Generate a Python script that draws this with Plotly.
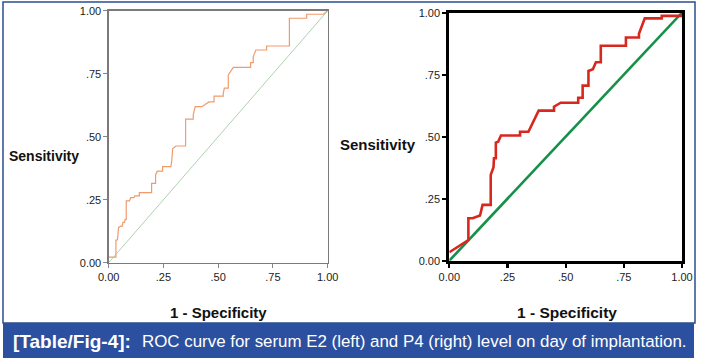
import plotly.graph_objects as go

# ---- data ----
tick_vals = [0, 0.25, 0.5, 0.75, 1.0]
tick_text = ["0.00", ".25", ".50", ".75", "1.00"]

e2_fpr = [0.0, 0.033, 0.033, 0.040, 0.045, 0.055, 0.062, 0.065, 0.072, 0.075, 0.080, 0.080,
          0.095, 0.100, 0.115, 0.120, 0.140, 0.140, 0.196, 0.196, 0.214, 0.214, 0.222, 0.246,
          0.246, 0.284, 0.288, 0.292, 0.307, 0.351, 0.351, 0.386, 0.386, 0.395, 0.425, 0.458,
          0.481, 0.481, 0.523, 0.523, 0.528, 0.546, 0.546, 0.569, 0.648, 0.648, 0.660, 0.660,
          0.672, 0.721, 0.721, 0.825, 0.825, 0.904, 0.904, 0.980, 1.0]
e2_tpr = [0.022, 0.022, 0.090, 0.090, 0.140, 0.145, 0.145, 0.160, 0.160, 0.172, 0.172, 0.245,
          0.245, 0.258, 0.258, 0.265, 0.265, 0.278, 0.278, 0.315, 0.315, 0.348, 0.363, 0.363,
          0.381, 0.381, 0.405, 0.452, 0.463, 0.463, 0.570, 0.570, 0.587, 0.619, 0.619, 0.638,
          0.638, 0.661, 0.661, 0.671, 0.693, 0.693, 0.745, 0.775, 0.775, 0.794, 0.794, 0.818,
          0.844, 0.844, 0.860, 0.860, 0.970, 0.970, 0.986, 0.986, 1.0]

p4_fpr = [0.0, 0.082, 0.082, 0.100, 0.132, 0.143, 0.178, 0.178, 0.190, 0.192, 0.200, 0.200,
          0.210, 0.222, 0.304, 0.304, 0.340, 0.384, 0.450, 0.450, 0.479, 0.554, 0.554, 0.573,
          0.573, 0.598, 0.598, 0.617, 0.630, 0.651, 0.651, 0.759, 0.759, 0.815, 0.815, 0.840,
          0.913, 0.913, 1.0, 1.0]
p4_tpr = [0.034, 0.083, 0.171, 0.171, 0.182, 0.225, 0.225, 0.346, 0.377, 0.413, 0.413, 0.476,
          0.480, 0.505, 0.505, 0.520, 0.520, 0.605, 0.605, 0.621, 0.637, 0.637, 0.657, 0.657,
          0.706, 0.706, 0.765, 0.772, 0.800, 0.800, 0.867, 0.867, 0.900, 0.900, 0.915, 0.977,
          0.977, 0.987, 0.987, 1.0]

ref_line = [0.0, 1.0]

caption_bold = "[Table/Fig-4]:"
caption_text = "ROC curve for serum E2 (left) and P4 (right) level on day of implantation."

W, H = 701, 361
def px(x): return x / W
def py(y): return 1 - y / H

FONT = "Liberation Sans, Arial, sans-serif"

fig = go.Figure()
fig.add_trace(go.Scatter(x=e2_fpr, y=e2_tpr, mode="lines", xaxis="x", yaxis="y",
                         line=dict(color="#f19a6c", width=1.2), showlegend=False, hoverinfo="skip"))
fig.add_trace(go.Scatter(x=ref_line, y=ref_line, mode="lines", xaxis="x", yaxis="y",
                         line=dict(color="#a6cca6", width=0.9), showlegend=False, hoverinfo="skip"))
fig.add_trace(go.Scatter(x=ref_line, y=ref_line, mode="lines", xaxis="x2", yaxis="y2",
                         line=dict(color="#169048", width=2.6), showlegend=False, hoverinfo="skip"))
fig.add_trace(go.Scatter(x=p4_fpr, y=p4_tpr, mode="lines", xaxis="x2", yaxis="y2",
                         line=dict(color="#d8281e", width=2.6), showlegend=False, hoverinfo="skip"))

tickfont = dict(family=FONT, size=11, color="#222222")
def ax(domain, anchor, color, lw, ticklen):
    return dict(domain=domain, anchor=anchor, range=[0, 1], tickvals=tick_vals, ticktext=tick_text,
                showgrid=False, zeroline=False, showline=True, mirror=True, linecolor=color,
                linewidth=lw, ticks="outside", ticklen=ticklen, tickcolor=color, tickwidth=lw * 0.7,
                tickfont=tickfont, fixedrange=True, automargin=False)

fig.update_layout(
    template="none",
    width=W, height=H, autosize=False,
    margin=dict(l=0, r=0, t=0, b=0, pad=0, autoexpand=False),
    paper_bgcolor="white", plot_bgcolor="white",
    hovermode=False,
    xaxis=ax([px(108.7), px(327.7)], "y", "#7a7a7a", 1.3, 4),
    yaxis=ax([py(262.7), py(10.7)], "x", "#7a7a7a", 1.3, 4),
    xaxis2=ax([px(449.3), px(682)], "y2", "#000000", 3, 4),
    yaxis2=ax([py(260.7), py(12.7)], "x2", "#000000", 3, 4),
    shapes=[
        dict(type="rect", xref="paper", yref="paper", x0=px(3), x1=px(695), y0=py(323), y1=py(2),
             line=dict(color="#2b4f8f", width=1.5), fillcolor="rgba(0,0,0,0)", layer="below"),
        dict(type="rect", xref="paper", yref="paper", x0=px(3), x1=px(694), y0=py(358), y1=py(323),
             line=dict(width=0), fillcolor="#2c50a0", layer="above"),
    ],
    annotations=[
        dict(text="<b>Sensitivity</b>", xref="paper", yref="paper", x=px(7), y=py(156),
             xanchor="left", yanchor="middle", showarrow=False,
             font=dict(family=FONT, size=14, color="#111111")),
        dict(text="<b>Sensitivity</b>", xref="paper", yref="paper", x=px(338), y=py(144),
             xanchor="left", yanchor="middle", showarrow=False,
             font=dict(family=FONT, size=15, color="#111111")),
        dict(text="<b>1 - Specificity</b>", xref="paper", yref="paper", x=px(218.5), y=py(312),
             xanchor="center", yanchor="middle", showarrow=False,
             font=dict(family=FONT, size=15, color="#111111")),
        dict(text="<b>1 - Specificity</b>", xref="paper", yref="paper", x=px(566.5), y=py(312),
             xanchor="center", yanchor="middle", showarrow=False,
             font=dict(family=FONT, size=15.5, color="#111111")),
        dict(text="<b>" + caption_bold + "</b>", xref="paper", yref="paper",
             x=px(11), y=py(341), xanchor="left", yanchor="middle", showarrow=False,
             font=dict(family=FONT, size=19, color="white")),
        dict(text=caption_text, xref="paper", yref="paper",
             x=px(140), y=py(341), xanchor="left", yanchor="middle", showarrow=False,
             font=dict(family=FONT, size=16.9, color="white")),
    ],
)

fig.write_html("out.html", config={"displayModeBar": False, "staticPlot": True},
               post_script="document.body.style.margin='0px';")
